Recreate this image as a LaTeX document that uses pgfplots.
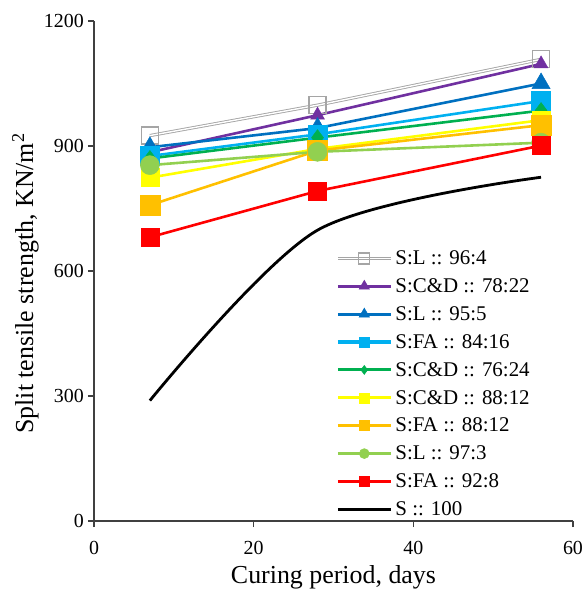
\documentclass[border=0pt]{standalone}
\usepackage{fontspec}
\setmainfont{Liberation Serif}
\usepackage{pgfplots}
\pgfplotsset{compat=1.18}

\definecolor{cGray}{HTML}{A5A5A5}
\definecolor{cPurple}{HTML}{7030A0}
\definecolor{cBlue}{HTML}{0070C0}
\definecolor{cLBlue}{HTML}{00B0F0}
\definecolor{cGreen}{HTML}{00B050}
\definecolor{cYellow}{HTML}{FFFF00}
\definecolor{cOrange}{HTML}{FFC000}
\definecolor{cLGreen}{HTML}{92D050}
\definecolor{cRed}{HTML}{FF0000}

\pgfplotsset{
  ser/.style={line width=2.6bp, color=#1, mark options={solid, fill=#1, draw=#1, line width=0.5bp}},
  grayser/.style={color=cGray, line width=0.9bp, double=white, double distance=1.4bp,
                  mark=square, mark options={solid, draw=cGray, fill=white, line width=1.3bp}},
}

\begin{document}
\begin{tikzpicture}
\begin{axis}[
  at={(0,0)}, anchor=origin,
  scale only axis, width=479bp, height=500bp,
  xmin=0, xmax=60, ymin=0, ymax=1200,
  xtick={0,20,40,60}, ytick={0,300,600,900,1200},
  xticklabels={\textrm{0},\textrm{20},\textrm{40},\textrm{60}},
  yticklabels={\textrm{0},\textrm{300},\textrm{600},\textrm{900},\textrm{1200}},
  axis lines=left, axis line style={-, line width=1.1bp, draw=black!75},
  tick align=outside, major tick length=6bp,
  tick style={line width=1.1bp, draw=black!75},
  tick label style={font=\fontsize{20}{24}\selectfont},
  xticklabel style={anchor=base, yshift=-27bp},
  yticklabel style={anchor=east, inner sep=0pt, xshift=-4bp},
  xlabel={Curing period, days},
  ylabel={Split tensile strength, KN/m\textsuperscript{2}},
  label style={font=\fontsize{26}{30}\selectfont},
  xlabel style={at={(axis description cs:0.5,-0.125)}, anchor=base},
  ylabel style={at={(axis description cs:-0.1273,0.475)}, anchor=base},
  clip=false,
  legend cell align=left,
  legend image code/.code={\draw[mark repeat=2, mark phase=2, #1]
      plot coordinates {(0bp,0bp) (26.5bp,0bp) (53bp,0bp)};},
  legend style={at={(rel axis cs:0.499,0.545)}, anchor=north west, draw=none, fill=none,
      font=\fontsize{21}{25}\selectfont, row sep=12.5bp, column sep=3bp,
      nodes={inner sep=0pt}},
]
% legend entries, drawn with smaller marks
\addlegendimage{grayser, mark size=5.5bp}
\addlegendentry{S:L :: 96:4}
\addlegendimage{ser=cPurple, mark=triangle*, mark size=6bp, line width=3bp}
\addlegendentry{S:C\&D :: 78:22}
\addlegendimage{ser=cBlue, mark=triangle*, mark size=6bp, line width=3bp}
\addlegendentry{S:L :: 95:5}
\addlegendimage{ser=cLBlue, mark=square*, mark size=5bp, line width=3bp}
\addlegendentry{S:FA :: 84:16}
\addlegendimage{ser=cGreen, mark=diamond*, mark size=4.5bp, line width=3bp}
\addlegendentry{S:C\&D :: 76:24}
\addlegendimage{ser=cYellow, mark=square*, mark size=5bp, line width=3bp}
\addlegendentry{S:C\&D :: 88:12}
\addlegendimage{ser=cOrange, mark=square*, mark size=5bp, line width=3bp}
\addlegendentry{S:FA :: 88:12}
\addlegendimage{ser=cLGreen, mark=*, mark size=5bp, line width=3bp}
\addlegendentry{S:L :: 97:3}
\addlegendimage{ser=cRed, mark=square*, mark size=5bp, line width=3bp}
\addlegendentry{S:FA :: 92:8}
\addlegendimage{line width=3bp, color=black}
\addlegendentry{S :: 100}

% S:L 96:4
\addplot[grayser, mark size=8.5bp, forget plot] coordinates {(7,925) (28,998) (56,1108)};
% S:C&D 78:22
\addplot[ser=cPurple, mark=triangle*, mark size=8bp, forget plot] coordinates {(7,885) (28,974) (56,1097)};
% S:L 95:5
\addplot[ser=cBlue, mark=triangle*, mark size=10.5bp, forget plot] coordinates {(7,897) (28,943) (56,1050)};
% S:FA 84:16
\addplot[ser=cLBlue, mark=square*, mark size=9.5bp, forget plot] coordinates {(7,876) (28,928) (56,1008)};
% S:C&D 76:24
\addplot[ser=cGreen, mark=diamond*, mark size=8bp, forget plot] coordinates {(7,870) (28,920) (56,985)};
% S:C&D 88:12
\addplot[ser=cYellow, mark=square*, mark size=9bp, forget plot] coordinates {(7,824) (28,893) (56,962)};
% S:FA 88:12
\addplot[ser=cOrange, mark=square*, mark size=10bp, forget plot] coordinates {(7,758) (28,889) (56,950)};
% S:L 97:3
\addplot[ser=cLGreen, mark=*, mark size=9.5bp, forget plot] coordinates {(7,854) (28,886) (56,908)};
% S:FA 92:8
\addplot[ser=cRed, mark=square*, mark size=9bp, forget plot] coordinates {(7,681) (28,792) (56,901)};
% S 100
\addplot[line width=2.8bp, color=black, smooth, forget plot] coordinates {(7,289) (28,698) (56,825)};
\end{axis}
\pgfresetboundingbox
\useasboundingbox (-94bp,-70bp) rectangle (491bp,521bp);
\end{tikzpicture}
\end{document}
